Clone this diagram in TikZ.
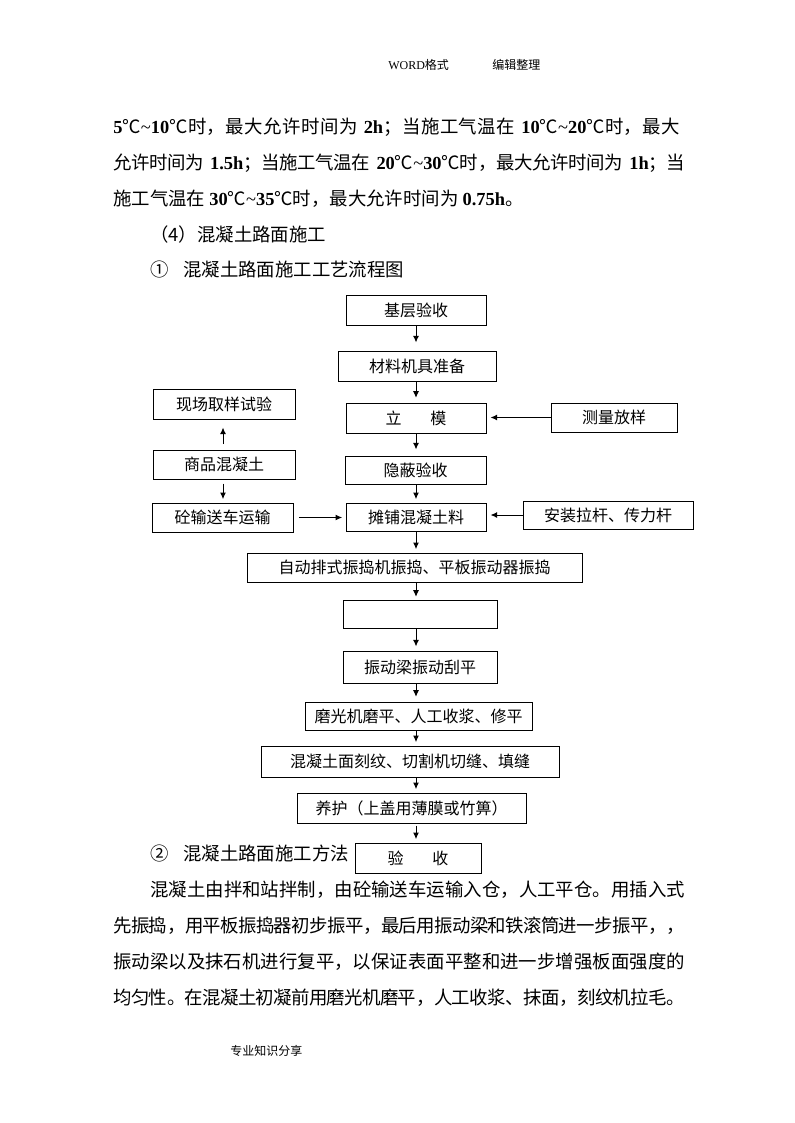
\documentclass[tikz,border=0pt]{standalone}
\usepackage{fontspec}
\setmainfont{Noto Sans CJK SC}
\newfontfamily\tnr{Liberation Serif}
\usetikzlibrary{arrows.meta}
\XeTeXlinebreaklocale "zh"
\XeTeXlinebreakskip=0pt plus 3pt minus 1pt
\newcommand\bn[1]{{\tnr\bfseries #1}}
\newcommand\tld{{\tnr\textasciitilde}}
\tikzset{
  box/.style={draw, line width=0.75pt, inner sep=0pt, font=\fontsize{12}{14}\selectfont},
  arr/.style={line width=0.75pt, -{Latex[length=5pt,width=4.5pt]}},
  body/.style={anchor=west, inner sep=0pt, font=\fontsize{13.8}{16}\selectfont},
  small/.style={anchor=west, inner sep=0pt, font=\fontsize{9}{11}\selectfont},
}
\newcommand\bx[6]{\node[box, minimum width={(#4-#2)*0.75pt}, minimum height={(#5-#3)*0.75pt}] (#1) at ({(#2+#4)/2},{(#3+#5)/2}) {#6};}
\newcommand\jl[1]{\noindent #1\parfillskip=0pt\par}
\begin{document}
\begin{tikzpicture}[x=0.75pt,y=-0.75pt]
\useasboundingbox (0,0) rectangle (794,1123);
\fill[white] (0,0) rectangle (794,1123);

% header and footer
\node[small] (h1) at (388,65) {{\tnr WORD}格式};
\node[small] (h2) at (492,65) {编辑整理};
\node[small] (ft) at (230,1051) {专业知识分享};

% top text
\node[body, text width=429pt] (t1) at (113,127) {\jl{\bn{5}℃\tld\bn{10}℃时，最大允许时间为 \bn{2h}；当施工气温在 \bn{10}℃\tld\bn{20}℃时，最大}};
\node[body, text width=429pt] (t2) at (113,163) {\jl{允许时间为 \bn{1.5h}；当施工气温在 \bn{20}℃\tld\bn{30}℃时，最大允许时间为 \bn{1h}；当}};
\node[body] (t3) at (113,199) {施工气温在 \bn{30}℃\tld\bn{35}℃时，最大允许时间为 \bn{0.75h}。};
\node[body] (t4) at (150,235) {（4）混凝土路面施工};
\node[body] (t5) at (150,270) {①\hspace{0.8em}混凝土路面施工工艺流程图};

% flowchart boxes
\bx{jc}{346}{295}{486}{325}{基层验收}
\bx{cl}{338}{351}{496}{381}{材料机具准备}
\bx{lm}{346}{403}{486}{433}{立\hspace{1.8em}模}
\bx{ms}{551}{403}{677}{432}{测量放样}
\bx{xc}{153}{389}{295}{419}{现场取样试验}
\bx{sp}{153}{450}{295}{479}{商品混凝土}
\bx{yb}{345}{456}{486}{484}{隐蔽验收}
\bx{ts}{152}{503}{293}{532}{砼输送车运输}
\bx{tp}{346}{503}{486}{531}{摊铺混凝土料}
\bx{az}{523}{501}{693}{529}{安装拉杆、传力杆}
\bx{zd}{247}{553}{582}{582}{自动排式振捣机振捣、平板振动器振捣}
\bx{ep}{343}{600}{497}{628}{}
\bx{zl}{343}{651}{497}{683}{振动梁振动刮平}
\bx{mg}{305}{702}{532}{730}{磨光机磨平、人工收浆、修平}
\bx{kw}{261}{746}{559}{777}{混凝土面刻纹、切割机切缝、填缝}
\bx{yh}{297}{793}{526}{823}{养护（上盖用薄膜或竹箅）}
\bx{ys}{355}{843}{481}{873}{验\hspace{1.8em}收}

% arrows
\coordinate (ax) at (416,0);
\coordinate (lx) at (223,0);
\draw[arr, shorten >=6pt] (jc.south -| ax) -- (cl.north -| ax);
\draw[arr, shorten >=3.5pt] (cl.south -| ax) -- (lm.north -| ax);
\draw[arr, shorten >=4.5pt] (lm.south -| ax) -- (yb.north -| ax);
\draw[arr, shorten >=2.5pt] (yb.south -| ax) -- (tp.north -| ax);
\draw[arr, shorten >=2.5pt] (tp.south -| ax) -- (zd.north -| ax);
\draw[arr, shorten >=2pt] (zd.south -| ax) -- (ep.north -| ax);
\draw[arr, shorten >=3pt] (ep.south -| ax) -- (zl.north -| ax);
\draw[arr, shorten >=3.5pt] (zl.south -| ax) -- (mg.north -| ax);
\draw[arr, shorten >=2.5pt] (mg.south -| ax) -- (kw.north -| ax);
\draw[arr, shorten >=2.5pt] (kw.south -| ax) -- (yh.north -| ax);
\draw[arr, shorten <=1.5pt, shorten >=2.5pt] (yh.south -| ax) -- (ys.north -| ax);
\draw[arr, shorten >=3pt] (ms.west) -- (ms.west -| lm.east);
\draw[arr, shorten >=3pt] (az.west) -- (az.west -| tp.east);
\draw[arr, shorten <=4pt, shorten >=2.5pt] (ts.east) -- (ts.east -| tp.west);
\draw[arr, shorten <=4pt, shorten >=6pt] (sp.north -| lx) -- (xc.south -| lx);
\draw[arr, shorten <=3pt, shorten >=2.5pt] (sp.south -| lx) -- (ts.north -| lx);

% bottom text
\node[body] (s2) at (150,853) {②\hspace{0.8em}混凝土路面施工方法};
\node[body, text width=401.25pt] (b1) at (150,890) {\jl{混凝土由拌和站拌制，由砼输送车运输入仓，人工平仓。用插入式}};
\node[body, text width=429pt] (b2) at (113,926) {\jl{先振捣，用平板振捣器初步振平，最后用振动梁和铁滚筒进一步振平，，}};
\node[body, text width=429pt] (b3) at (113,962) {\jl{振动梁以及抹石机进行复平，以保证表面平整和进一步增强板面强度的}};
\node[body, text width=429pt] (b4) at (113,998) {\jl{均匀性。在混凝土初凝前用磨光机磨平，人工收浆、抹面，刻纹机拉毛。}};
\end{tikzpicture}
\end{document}
